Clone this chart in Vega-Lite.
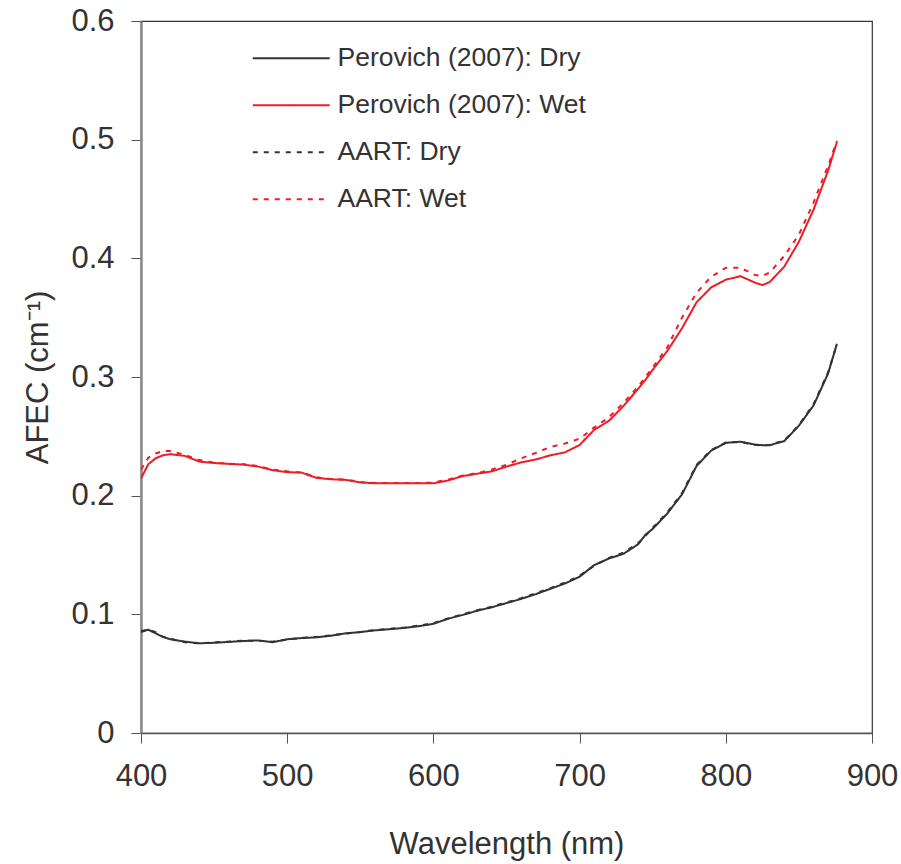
{
  "$schema": "https://vega.github.io/schema/vega-lite/v6.json",
  "width": 731,
  "height": 712,
  "autosize": {"type": "none"},
  "padding": {"left": 141, "top": 21, "right": 29, "bottom": 131},
  "background": "white",
  "config": {
    "font": "Liberation Sans",
    "view": {"stroke": "#333333", "strokeWidth": 1.2},
    "axis": {"grid": false, "labelFont": "Liberation Sans", "titleFont": "Liberation Sans", "labelColor": "#333333", "titleColor": "#333333", "titleFontWeight": "normal", "tickColor": "#555555", "tickSize": 10, "tickWidth": 1}
  },
  "data": {"values": [
    {"w":400,"pd":0.086,"ad":0.085,"pw":0.2146,"aw":0.222},
    {"w":405,"pd":0.087,"ad":0.087,"pw":0.2265,"aw":0.232},
    {"w":410,"pd":0.084,"ad":0.085,"pw":0.2315,"aw":0.2355},
    {"w":415,"pd":0.081,"ad":0.081,"pw":0.234,"aw":0.2376},
    {"w":420,"pd":0.079,"ad":0.0795,"pw":0.235,"aw":0.2376},
    {"w":430,"pd":0.077,"ad":0.0765,"pw":0.2335,"aw":0.2345},
    {"w":440,"pd":0.0756,"ad":0.0755,"pw":0.2287,"aw":0.23},
    {"w":450,"pd":0.076,"ad":0.0765,"pw":0.2275,"aw":0.2278},
    {"w":460,"pd":0.0768,"ad":0.077,"pw":0.2268,"aw":0.227},
    {"w":470,"pd":0.0775,"ad":0.0778,"pw":0.2262,"aw":0.2265},
    {"w":480,"pd":0.078,"ad":0.0778,"pw":0.2245,"aw":0.225},
    {"w":490,"pd":0.0765,"ad":0.077,"pw":0.2215,"aw":0.222},
    {"w":500,"pd":0.079,"ad":0.0788,"pw":0.2198,"aw":0.2205},
    {"w":510,"pd":0.08,"ad":0.0802,"pw":0.2194,"aw":0.2195},
    {"w":520,"pd":0.0806,"ad":0.081,"pw":0.215,"aw":0.2155},
    {"w":530,"pd":0.082,"ad":0.0822,"pw":0.2138,"aw":0.214},
    {"w":540,"pd":0.084,"ad":0.0838,"pw":0.2133,"aw":0.2135},
    {"w":550,"pd":0.085,"ad":0.0852,"pw":0.2112,"aw":0.2115},
    {"w":560,"pd":0.0865,"ad":0.0868,"pw":0.2104,"aw":0.2106},
    {"w":570,"pd":0.0875,"ad":0.0878,"pw":0.2104,"aw":0.2106},
    {"w":580,"pd":0.0885,"ad":0.0888,"pw":0.2104,"aw":0.2106},
    {"w":590,"pd":0.09,"ad":0.0905,"pw":0.2104,"aw":0.2106},
    {"w":600,"pd":0.092,"ad":0.0925,"pw":0.2104,"aw":0.211},
    {"w":610,"pd":0.0963,"ad":0.0965,"pw":0.2128,"aw":0.2135},
    {"w":620,"pd":0.0995,"ad":0.1,"pw":0.2165,"aw":0.217},
    {"w":630,"pd":0.103,"ad":0.1035,"pw":0.2185,"aw":0.219},
    {"w":640,"pd":0.106,"ad":0.1065,"pw":0.2205,"aw":0.222},
    {"w":650,"pd":0.1095,"ad":0.11,"pw":0.2245,"aw":0.226},
    {"w":660,"pd":0.113,"ad":0.1135,"pw":0.228,"aw":0.2315},
    {"w":670,"pd":0.117,"ad":0.1178,"pw":0.2305,"aw":0.236},
    {"w":680,"pd":0.1215,"ad":0.122,"pw":0.234,"aw":0.241},
    {"w":690,"pd":0.126,"ad":0.1268,"pw":0.2365,"aw":0.244},
    {"w":700,"pd":0.1317,"ad":0.1325,"pw":0.2427,"aw":0.248},
    {"w":710,"pd":0.1415,"ad":0.141,"pw":0.2555,"aw":0.2575},
    {"w":720,"pd":0.147,"ad":0.1475,"pw":0.263,"aw":0.266},
    {"w":730,"pd":0.151,"ad":0.152,"pw":0.2755,"aw":0.278},
    {"w":740,"pd":0.159,"ad":0.16,"pw":0.29,"aw":0.292},
    {"w":745,"pd":0.167,"ad":0.166,"pw":0.2975,"aw":0.3},
    {"w":750,"pd":0.172,"ad":0.173,"pw":0.306,"aw":0.308},
    {"w":760,"pd":0.185,"ad":0.186,"pw":0.322,"aw":0.325},
    {"w":770,"pd":0.201,"ad":0.202,"pw":0.341,"aw":0.35},
    {"w":780,"pd":0.225,"ad":0.226,"pw":0.363,"aw":0.371},
    {"w":790,"pd":0.238,"ad":0.2385,"pw":0.3755,"aw":0.3845},
    {"w":800,"pd":0.2445,"ad":0.2448,"pw":0.382,"aw":0.392},
    {"w":810,"pd":0.2455,"ad":0.2452,"pw":0.385,"aw":0.392},
    {"w":820,"pd":0.243,"ad":0.2428,"pw":0.3795,"aw":0.386},
    {"w":825,"pd":0.2425,"ad":0.2422,"pw":0.3775,"aw":0.385},
    {"w":830,"pd":0.2425,"ad":0.2428,"pw":0.38,"aw":0.388},
    {"w":840,"pd":0.246,"ad":0.2465,"pw":0.393,"aw":0.402},
    {"w":850,"pd":0.259,"ad":0.2595,"pw":0.414,"aw":0.42},
    {"w":860,"pd":0.276,"ad":0.277,"pw":0.441,"aw":0.447},
    {"w":870,"pd":0.303,"ad":0.304,"pw":0.474,"aw":0.478},
    {"w":876,"pd":0.328,"ad":0.3275,"pw":0.498,"aw":0.499}
  ]},
  "transform": [{"fold": ["pd", "pw", "ad", "aw"], "as": ["series", "afec"]}],
  "mark": {"type": "line", "strokeWidth": 2, "clip": true},
  "encoding": {
    "x": {
      "field": "w", "type": "quantitative",
      "scale": {"domain": [400, 900], "nice": false, "zero": false},
      "axis": {"values": [400, 500, 600, 700, 800, 900], "title": "Wavelength (nm)", "labelFontSize": 31, "titleFontSize": 31, "labelPadding": 18, "titlePadding": 38, "domainColor": "#555555", "domainWidth": 1.5, "labelFlush": false}
    },
    "y": {
      "field": "afec", "type": "quantitative",
      "scale": {"domain": [0, 0.6], "nice": false},
      "axis": {"values": [0, 0.1, 0.2, 0.3, 0.4, 0.5, 0.6], "labelExpr": "datum.value == 0 ? '0' : format(datum.value, '.1f')", "title": "AFEC (cm⁻¹)", "labelFontSize": 31, "titleFontSize": 31, "labelPadding": 17, "titlePadding": 16, "domainColor": "#888888", "domainWidth": 2.5, "labelFlush": false}
    },
    "color": {
      "field": "series", "type": "nominal",
      "scale": {"domain": ["pd", "pw", "ad", "aw"], "range": ["#333333", "#ee1c25", "#333333", "#ee1c25"]},
      "legend": {
        "orient": "none", "legendX": 137, "legendY": 24, "title": null, "padding": 0,
        "symbolType": "M-4,0H4", "symbolSize": 370, "symbolStrokeWidth": 2,
        "labelFontSize": 26.5, "labelColor": "#333333", "labelFont": "Liberation Sans", "labelOffset": 33, "rowPadding": 20, "labelLimit": 0,
        "labelExpr": "datum.label == 'pd' ? 'Perovich (2007): Dry' : datum.label == 'pw' ? 'Perovich (2007): Wet' : datum.label == 'ad' ? 'AART: Dry' : 'AART: Wet'"
      }
    },
    "strokeDash": {
      "field": "series", "type": "nominal",
      "scale": {"domain": ["pd", "pw", "ad", "aw"], "range": [[1, 0], [1, 0], [5, 6], [5, 6]]},
      "legend": {
        "orient": "none", "legendX": 137, "legendY": 24, "title": null, "padding": 0,
        "symbolType": "M-4,0H4", "symbolSize": 370, "symbolStrokeWidth": 2,
        "labelFontSize": 26.5, "labelColor": "#333333", "labelFont": "Liberation Sans", "labelOffset": 33, "rowPadding": 20, "labelLimit": 0,
        "labelExpr": "datum.label == 'pd' ? 'Perovich (2007): Dry' : datum.label == 'pw' ? 'Perovich (2007): Wet' : datum.label == 'ad' ? 'AART: Dry' : 'AART: Wet'"
      }
    }
  }
}
